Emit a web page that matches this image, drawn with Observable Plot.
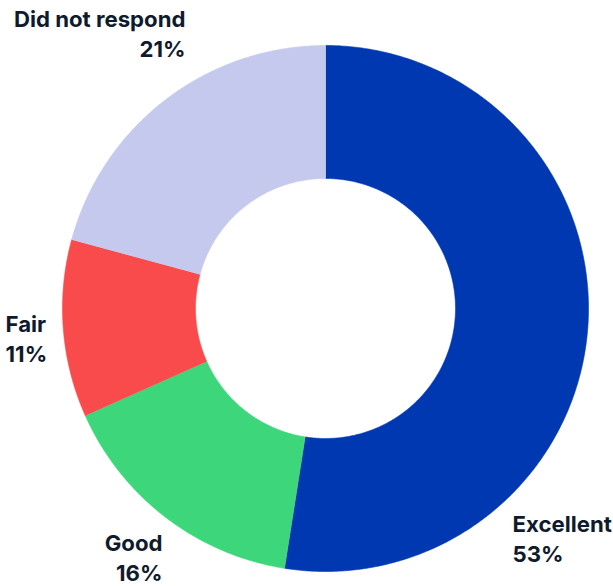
<!DOCTYPE html>
<html>
<head>
<meta charset="utf-8">
<script src="https://cdn.jsdelivr.net/npm/d3@7"></script>
<script src="https://cdn.jsdelivr.net/npm/@observablehq/plot@0.6"></script>
<style>
  html, body { margin: 0; padding: 0; background: #fff; }
  #chart svg { display: block; }
</style>
</head>
<body>
<div id="chart"></div>
<script>
// ---- data ----
const categories = ["Excellent", "Good", "Fair", "Did not respond"];
const values = [53, 16, 11, 21];
const percentLabels = ["53%", "16%", "11%", "21%"];
const colors = ["#0038b2", "#3dd67a", "#f94b4b", "#c5c9ee"];

// ---- layout (pixels) ----
const W = 613, H = 586;
const cx = 325, cy = 308;
const outerR = 263, innerR = 130;
const labelLayout = {
  "Did not respond": {px: 185, py: 27, anchor: "end"},
  "Fair": {px: 5, py: 332, anchor: "start"},
  "Good": {px: 162, py: 551, anchor: "end"},
  "Excellent": {px: 512, py: 532, anchor: "start"}
};
const fontSize = 22.2;

// ---- build arc polygons from the data ----
const total = d3.sum(values);
const pts = [];
let acc = 0;
categories.forEach((cat, i) => {
  const a0 = acc / total * 2 * Math.PI;
  acc += values[i];
  const a1 = acc / total * 2 * Math.PI;
  const n = Math.max(8, Math.ceil((a1 - a0) / (Math.PI / 360)));
  for (let k = 0; k <= n; k++) {
    const a = a0 + (a1 - a0) * k / n;
    pts.push({cat, x: outerR * Math.sin(a), y: outerR * Math.cos(a)});
  }
  for (let k = n; k >= 0; k--) {
    const a = a0 + (a1 - a0) * k / n;
    pts.push({cat, x: innerR * Math.sin(a), y: innerR * Math.cos(a)});
  }
});

const labels = categories.map((cat, i) => {
  const L = labelLayout[cat];
  return {
    cat,
    text: cat + "\n" + percentLabels[i],
    x: L.px - cx,
    y: cy - (L.py - 1.0 * fontSize),
    anchor: L.anchor
  };
});

const chart = Plot.plot({
  width: W,
  height: H,
  margin: 0,
  x: {domain: [-cx, W - cx], axis: null},
  y: {domain: [cy - H, cy], axis: null},
  color: {domain: categories, range: colors},
  style: {fontFamily: "Inter, 'Noto Sans', sans-serif", background: "#fff"},
  marks: [
    Plot.line(pts, {x: "x", y: "y", z: "cat", fill: "cat", stroke: "cat", strokeWidth: 0.6}),
    Plot.text(labels.filter(d => d.anchor === "start"), {
      x: "x", y: "y", text: "text", textAnchor: "start", lineAnchor: "top",
      lineHeight: 1.36, fontSize, fontWeight: 700, fill: "#0f1b2d"
    }),
    Plot.text(labels.filter(d => d.anchor === "end"), {
      x: "x", y: "y", text: "text", textAnchor: "end", lineAnchor: "top",
      lineHeight: 1.36, fontSize, fontWeight: 700, fill: "#0f1b2d"
    })
  ]
});
document.getElementById("chart").append(chart);
</script>
</body>
</html>
